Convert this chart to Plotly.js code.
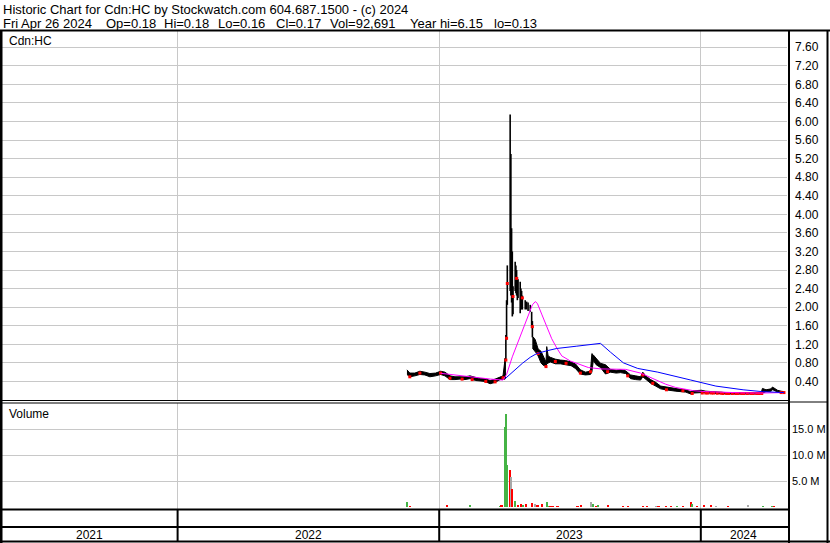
<!DOCTYPE html>
<html>
<head>
<meta charset="utf-8">
<script src="https://cdn.plot.ly/plotly-3.0.1.min.js"></script>
<style>html,body{margin:0;padding:0;background:#fff;}#chart{width:830px;height:543px;}</style>
</head>
<body>
<div id="chart"></div>
<script>
// ---------- DATA ----------
const priceDates = ['2022-11-17','2022-11-21','2022-11-28','2022-12-05','2022-12-12','2022-12-19','2022-12-27',
'2023-01-03','2023-01-09','2023-01-16','2023-01-23','2023-01-30','2023-02-06','2023-02-13','2023-02-21','2023-02-27',
'2023-03-06','2023-03-13','2023-03-20','2023-03-27','2023-03-31','2023-04-03','2023-04-04','2023-04-05','2023-04-06',
'2023-04-10','2023-04-11','2023-04-12','2023-04-13','2023-04-14','2023-04-17','2023-04-18','2023-04-19','2023-04-20',
'2023-04-21','2023-04-24','2023-04-25','2023-04-26','2023-04-27','2023-05-01','2023-05-03','2023-05-05','2023-05-08',
'2023-05-10','2023-05-11','2023-05-12','2023-05-15','2023-05-17','2023-05-19','2023-05-23','2023-05-26','2023-05-30',
'2023-05-31','2023-06-02','2023-06-05','2023-06-12','2023-06-19','2023-06-26','2023-07-04','2023-07-10','2023-07-17',
'2023-07-24','2023-07-31','2023-08-02','2023-08-04','2023-08-08','2023-08-14','2023-08-21','2023-08-28','2023-09-05',
'2023-09-11','2023-09-18','2023-09-25','2023-10-02','2023-10-09','2023-10-12','2023-10-16','2023-10-23','2023-10-30',
'2023-11-06','2023-11-13','2023-11-20','2023-11-27','2023-12-04','2023-12-11','2023-12-18','2023-12-22',
'2024-01-02','2024-01-08','2024-01-15','2024-01-22','2024-01-29','2024-02-05','2024-02-12','2024-02-20','2024-02-26',
'2024-03-04','2024-03-11','2024-03-18','2024-03-25','2024-03-27','2024-04-01','2024-04-08','2024-04-10','2024-04-12',
'2024-04-17','2024-04-22','2024-04-26'];
const priceHigh = [0.65,0.58,0.58,0.62,0.60,0.57,0.58,
0.62,0.60,0.52,0.50,0.50,0.50,0.52,0.48,0.46,
0.46,0.42,0.45,0.50,0.52,0.90,1.40,2.15,2.90,
6.15,5.30,3.70,3.20,2.45,2.98,2.90,2.80,2.65,
2.60,2.55,2.40,2.35,2.25,2.15,2.12,2.10,2.05,
1.90,1.70,1.36,1.30,1.20,1.10,1.05,0.95,0.82,
1.15,0.95,0.92,0.88,0.86,0.85,0.82,0.78,0.65,
0.60,0.62,1.00,0.97,0.90,0.79,0.76,0.66,0.64,
0.65,0.63,0.54,0.52,0.50,0.60,0.52,0.44,0.38,
0.30,0.28,0.26,0.25,0.23,0.22,0.18,0.20,
0.21,0.19,0.18,0.17,0.17,0.16,0.16,0.16,0.15,
0.15,0.15,0.15,0.15,0.25,0.22,0.24,0.28,0.26,
0.21,0.19,0.18];
const priceLow = [0.55,0.50,0.52,0.55,0.54,0.50,0.52,
0.55,0.52,0.44,0.44,0.45,0.44,0.46,0.42,0.41,
0.40,0.35,0.38,0.44,0.45,0.45,0.85,1.30,2.05,
2.35,2.25,2.10,1.80,1.85,2.35,2.30,2.25,2.15,
2.20,1.87,2.00,1.95,1.95,1.95,1.95,1.92,1.90,
1.55,1.35,1.10,1.05,1.00,0.95,0.80,0.75,0.72,
0.78,0.80,0.82,0.78,0.78,0.76,0.74,0.68,0.56,
0.54,0.55,0.60,0.85,0.76,0.70,0.56,0.60,0.58,
0.59,0.57,0.46,0.44,0.43,0.50,0.45,0.36,0.30,
0.24,0.22,0.20,0.19,0.18,0.17,0.13,0.15,
0.16,0.15,0.15,0.14,0.14,0.13,0.13,0.13,0.13,
0.13,0.13,0.13,0.13,0.15,0.18,0.19,0.22,0.21,
0.17,0.16,0.16];

// red close marks visible on the bars
const closeDates = ['2022-11-21','2022-12-05','2023-01-03','2023-01-16','2023-02-02','2023-02-16','2023-03-07','2023-03-20',
'2023-03-31','2023-04-04','2023-04-05','2023-04-06','2023-04-14','2023-04-19','2023-04-27','2023-05-11','2023-05-19',
'2023-05-30','2023-06-12','2023-06-27','2023-07-17','2023-07-31','2023-08-24','2023-09-21','2023-10-12','2023-10-26',
'2023-11-14','2023-12-07','2023-12-20',
'2024-01-03','2024-01-08','2024-01-11','2024-01-16','2024-01-19','2024-01-24','2024-01-29','2024-02-01','2024-02-06',
'2024-02-09','2024-02-14','2024-02-19','2024-02-22','2024-02-27','2024-03-01','2024-03-06','2024-03-11','2024-03-14',
'2024-03-19','2024-03-22','2024-03-26','2024-04-22','2024-04-26'];
const closeValues = [0.50,0.58,0.58,0.47,0.45,0.44,0.40,0.39,
0.48,0.86,1.33,2.51,2.23,2.62,2.20,1.58,1.00,
0.72,0.83,0.79,0.58,0.61,0.61,0.52,0.54,0.36,
0.22,0.20,0.14,
0.15,0.15,0.15,0.15,0.15,0.145,0.145,0.14,0.14,
0.14,0.14,0.14,0.14,0.14,0.14,0.14,0.14,0.14,
0.14,0.14,0.14,0.16,0.16];

// short moving average (magenta)
const maShortDates = ['2023-01-03','2023-01-17','2023-01-31','2023-02-14','2023-02-28','2023-03-14','2023-03-31','2023-04-05',
'2023-04-13','2023-04-20','2023-04-27','2023-05-04','2023-05-11','2023-05-15','2023-05-18','2023-05-24','2023-05-31',
'2023-06-07','2023-06-14','2023-06-21','2023-07-03','2023-07-12','2023-07-28','2023-08-14','2023-09-18','2023-10-09',
'2023-10-23','2023-11-06','2023-11-13','2023-11-27','2023-12-11','2023-12-22','2024-01-08','2024-01-29','2024-02-26',
'2024-03-25','2024-04-10','2024-04-26'];
const maShortValues = [0.575,0.55,0.52,0.49,0.47,0.45,0.43,0.55,
0.93,1.22,1.51,1.80,2.05,2.12,2.08,1.85,1.58,
1.32,1.12,0.95,0.84,0.79,0.70,0.67,0.66,0.58,
0.48,0.39,0.34,0.27,0.23,0.20,0.18,0.165,0.155,
0.15,0.155,0.16];

// long moving average (blue)
const maLongDates = ['2023-04-03','2023-04-14','2023-04-27','2023-05-08','2023-05-17','2023-05-31','2023-06-14','2023-07-12',
'2023-08-09','2023-08-14','2023-08-28','2023-09-15','2023-10-05','2023-11-02','2023-12-18','2024-01-22','2024-02-29',
'2024-03-27','2024-04-26'];
const maLongValues = [0.46,0.62,0.79,0.92,1.00,1.06,1.11,1.16,
1.22,1.22,1.03,0.80,0.68,0.60,0.43,0.30,0.22,
0.18,0.16];

// volume (millions of shares) and day direction
const volDates = ['2022-11-17','2022-11-21','2022-11-25','2022-12-28','2023-01-12','2023-02-13','2023-02-15','2023-03-06',
'2023-03-13','2023-03-16','2023-03-27','2023-03-29','2023-04-03','2023-04-04','2023-04-05','2023-04-06','2023-04-10',
'2023-04-11','2023-04-12','2023-04-13','2023-04-17','2023-04-21','2023-04-25','2023-04-28','2023-05-02','2023-05-10',
'2023-05-15','2023-05-17','2023-05-19','2023-05-24','2023-05-31','2023-06-02','2023-06-05','2023-06-08','2023-06-15',
'2023-07-13','2023-07-18','2023-08-01','2023-08-04','2023-08-08','2023-08-10','2023-08-24','2023-09-08','2023-09-15',
'2023-09-21','2023-10-12','2023-10-18','2023-10-30','2023-11-03','2023-11-13','2023-11-20','2023-11-29','2023-12-07',
'2023-12-18','2023-12-20','2023-12-27','2024-01-05','2024-01-15','2024-01-22','2024-02-08','2024-02-26','2024-03-07',
'2024-03-28','2024-04-09','2024-04-12'];
const volMillions = [1.0,0.2,0.15,0.15,0.5,0.45,0.15,0.15,
0.15,0.15,0.2,0.45,15.4,17.9,8.1,7.7,7.3,
5.8,3.6,1.7,1.3,0.5,0.75,0.4,0.6,0.9,
0.6,0.55,0.5,0.75,1.1,0.3,0.3,0.3,0.25,
0.3,0.5,1.1,0.6,0.3,0.4,0.5,0.15,0.2,
0.25,0.35,0.3,0.2,0.2,0.2,0.3,0.25,0.2,
1.0,0.6,0.2,0.4,0.4,0.2,0.2,0.15,0.5,
0.2,0.2,0.2];
const volDirection = ['up','down','up','up','down','up','up','up',
'down','up','up','down','up','up','up','up','down',
'flat','down','down','up','down','down','up','down','down',
'flat','down','down','down','up','up','down','down','down',
'down','down','flat','up','down','up','down','up','down',
'down','down','down','flat','down','down','down','up','down',
'down','up','down','down','down','flat','down','up','flat',
'up','up','down'];

const priceTickLabels = ['0.40','0.80','1.20','1.60','2.00','2.40','2.80','3.20','3.60','4.00','4.40','4.80','5.20','5.60','6.00','6.40','6.80','7.20','7.60'];
const volTickLabels = ['5.0 M','10.0 M','15.0 M'];
const volTickValues = [5e6,10e6,15e6];
const yearLabels = ['2021','2022','2023','2024'];

const headerLine1 = 'Historic Chart for Cdn:HC by Stockwatch.com 604.687.1500 - (c) 2024';
const headerLine2 = ['Fri Apr 26 2024','Op=0.18','Hi=0.18','Lo=0.16','Cl=0.17','Vol=92,691','Year hi=6.15','lo=0.13'];

// ---------- LAYOUT HELPERS ----------
const W = 830, H = 543, ML = 2, MR = 43;
const PW = W - ML - MR;
const px = x => (x - ML) / PW;
const py = y => 1 - y / H;
const FONT = 'Liberation Sans, Arial, sans-serif';
const dirColor = {up:'#45b345', down:'#ff0000', flat:'#a8a8a8'};

// volatile period drawn as individual high-low bars, calm periods as a band
const burstStart = '2023-04-03', burstEnd = '2023-05-12';
const bandA = [], bandB = [], seg = {x:[], y:[]};
priceDates.forEach((d,i) => {
  if (d <= burstStart) bandA.push(i);
  if (d >= burstEnd) bandB.push(i);
  if (d >= burstStart && d <= burstEnd) { seg.x.push(d, d, null); seg.y.push(priceLow[i], priceHigh[i], null); }
});
function bandTraces(idx){
  const xs = idx.map(i => priceDates[i]);
  return [
    {x: xs, y: idx.map(i => priceHigh[i]), type:'scatter', mode:'lines', line:{color:'#000', width:1}, xaxis:'x', yaxis:'y'},
    {x: xs, y: idx.map(i => priceLow[i]), type:'scatter', mode:'lines', line:{color:'#000', width:1}, fill:'tonexty', fillcolor:'#000', xaxis:'x', yaxis:'y'}
  ];
}

const traces = [
  ...bandTraces(bandA),
  ...bandTraces(bandB),
  {x: seg.x, y: seg.y, type:'scatter', mode:'lines', connectgaps:false, line:{color:'#000', width:1.6}, xaxis:'x', yaxis:'y'},
  {x: closeDates, y: closeValues, type:'scatter', mode:'markers', marker:{color:'#ff0000', size:3, symbol:'square', line:{width:0}}, xaxis:'x', yaxis:'y'},
  {x: maShortDates, y: maShortValues, type:'scatter', mode:'lines', line:{color:'#ff00ff', width:1}, xaxis:'x', yaxis:'y'},
  {x: maLongDates, y: maLongValues, type:'scatter', mode:'lines', line:{color:'#0000ff', width:1}, xaxis:'x', yaxis:'y'},
  {x: volDates, y: volMillions.map(v => v * 1e6), type:'bar', width: 3*86400000,
   marker:{color: volDirection.map(d => dirColor[d]), line:{width:0}}, xaxis:'x', yaxis:'y2'}
];

const yearStarts = ['2022-01-01','2023-01-01','2024-01-01'];
const shapes = [];
function hline(x0,x1,y,w){shapes.push({type:'line',xref:'paper',yref:'paper',x0:px(x0),x1:px(x1),y0:py(y),y1:py(y),line:{color:'#000',width:w}});}
function vline(x,y0,y1,w){shapes.push({type:'line',xref:'paper',yref:'paper',x0:px(x),x1:px(x),y0:py(y0),y1:py(y1),line:{color:'#000',width:w}});}
hline(0,830,30.5,2);
hline(0,789,400.5,1);
hline(0,789,403,1);
hline(789,828,402,1);
hline(0,789,509.5,2);
hline(0,789,527,2);
hline(0,830,541.5,2);
vline(1,30,543,3);
vline(789,30,543,2);
vline(827.5,30,543,2);
yearStarts.forEach(d => shapes.push({type:'line', xref:'x', yref:'paper', x0:d, x1:d, y0:py(510), y1:py(541), line:{color:'#000', width:2}}));

const annotations = [];
function txt(t, x, y, size){annotations.push({text:t, xref:'paper', yref:'paper', x:px(x), y:py(y), xanchor:'left', yanchor:'middle', showarrow:false, font:{family:FONT, size:size||12, color:'#000'}, borderpad:0});}
txt(headerLine1, 2, 10, 13);
const line2X = [2,105,163,217,275,329,409,493];
headerLine2.forEach((t,i) => txt(t, line2X[i], 23.5, 13));
txt('Cdn:HC', 8, 41.5);
txt('Volume', 8, 413.5);
const yearSpans = [['2021-05-01','2022-01-01'],['2022-01-01','2023-01-01'],['2023-01-01','2024-01-01'],['2024-01-01','2024-04-30']];
yearLabels.forEach((t,i) => {
  const a = new Date(yearSpans[i][0]).getTime(), b = new Date(yearSpans[i][1]).getTime();
  const mid = new Date((a+b)/2).toISOString().slice(0,10);
  annotations.push({text:t, xref:'x', yref:'paper', x:mid, y:py(535), xanchor:'center', yanchor:'middle', showarrow:false, font:{family:FONT,size:12,color:'#000'}, borderpad:0});
});

const layout = {
  width: W, height: H,
  margin: {l: ML, r: MR, t: 0, b: 0, pad: 0},
  paper_bgcolor: '#fff', plot_bgcolor: '#fff',
  showlegend: false, bargap: 0,
  font: {family: FONT, size: 12, color: '#000'},
  xaxis: {type:'date', range:['2021-05-01','2024-04-30 06:00'], domain:[0,1], anchor:'y2',
          showgrid:true, gridcolor:'#c8c8c8', gridwidth:1, tick0:'2022-01-01', dtick:'M12',
          showticklabels:false, ticks:'', zeroline:false, showline:false, fixedrange:true},
  yaxis: {domain:[py(400), py(31)], range:[0, 7.95], side:'right', anchor:'x',
          tickvals: priceTickLabels.map(Number), ticktext: priceTickLabels,
          showgrid:true, gridcolor:'#c8c8c8', gridwidth:1, zeroline:false, showline:false,
          ticks:'', ticklabelstandoff:7, tickfont:{family:FONT, size:12, color:'#000'}, fixedrange:true},
  yaxis2: {domain:[py(509), py(403)], range:[-0.29e6, 20.1e6], side:'right', anchor:'x',
          tickvals: volTickValues, ticktext: volTickLabels,
          showgrid:true, gridcolor:'#c8c8c8', gridwidth:1, zeroline:false, showline:false,
          ticks:'', ticklabelstandoff:4, tickfont:{family:FONT, size:11, color:'#000'}, fixedrange:true},
  shapes: shapes,
  annotations: annotations
};

Plotly.newPlot('chart', traces, layout, {staticPlot:true, displayModeBar:false});
</script>
</body>
</html>
